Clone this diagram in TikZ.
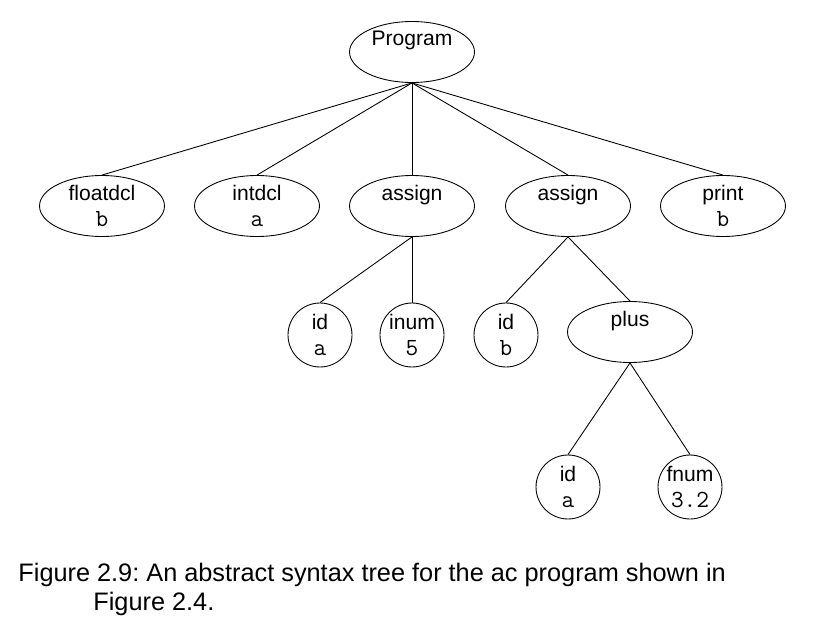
\documentclass[tikz,border=0pt]{standalone}
\usepackage{fontspec}
\setmainfont{Liberation Sans}
\usetikzlibrary{shapes.geometric}

\newcommand{\astval}[1]{{\fontsize{14}{14.8}\selectfont\texttt{#1}}}

\begin{document}
\begin{tikzpicture}[x=0.02cm, y=0.02cm, line width=0.5pt,
    opnode/.style={draw, ellipse, inner sep=0pt, minimum width=2.5cm, minimum height=1.22cm, align=center, font=\fontsize{12}{15.2}\selectfont},
    leafnode/.style={draw, circle, inner sep=0pt, minimum size=1.28cm, align=center, font=\fontsize{12}{15.2}\selectfont}]

        % Fix the page size
        \useasboundingbox (0,0) rectangle (819,627);

        % Draw root
        \node[opnode] (prog) at (412,575) {Program\\\mbox{}};

        % Draw statements
        \node[opnode] (fdcl) at (102,421) {floatdcl\\\astval{b}};
        \node[opnode] (idcl) at (257,421) {intdcl\\\astval{a}};
        \node[opnode] (asga) at (412,421) {assign\\\mbox{}};
        \node[opnode] (asgb) at (568,421) {assign\\\mbox{}};
        \node[opnode] (prnt) at (723,421) {print\\\astval{b}};

        % Draw operands
        \node[leafnode] (ida) at (320,292) {id\\\astval{a}};
        \node[leafnode] (inum) at (412,292) {inum\\\astval{5}};
        \node[leafnode] (idb) at (506,292) {id\\\astval{b}};
        \node[opnode] (plus) at (630,295) {plus\\\mbox{}};
        \node[leafnode] (idc) at (568,140) {id\\\astval{a}};
        \node[leafnode] (fnum) at (690,140) {fnum\\\astval{3.2}};

        % Draw edges
        \foreach \c in {fdcl, idcl, asga, asgb, prnt} {
            \draw (prog.south) -- (\c.north);
        }
        \draw (asga.south) -- (ida.north);
        \draw (asga.south) -- (inum.north);
        \draw (asgb.south) -- (idb.north);
        \draw (asgb.south) -- (plus.north);
        \draw (plus.south) -- (idc.north);
        \draw (plus.south) -- (fnum.north);

        % Draw caption
        \node[anchor=base west, align=left, inner sep=0pt, font=\fontsize{14.4}{16}\selectfont\frenchspacing] (cap) at (18,17)
            {Figure 2.9: An abstract syntax tree for the ac program shown in\\\hspace*{1.5cm}Figure 2.4.};

    \end{tikzpicture}
\end{document}
